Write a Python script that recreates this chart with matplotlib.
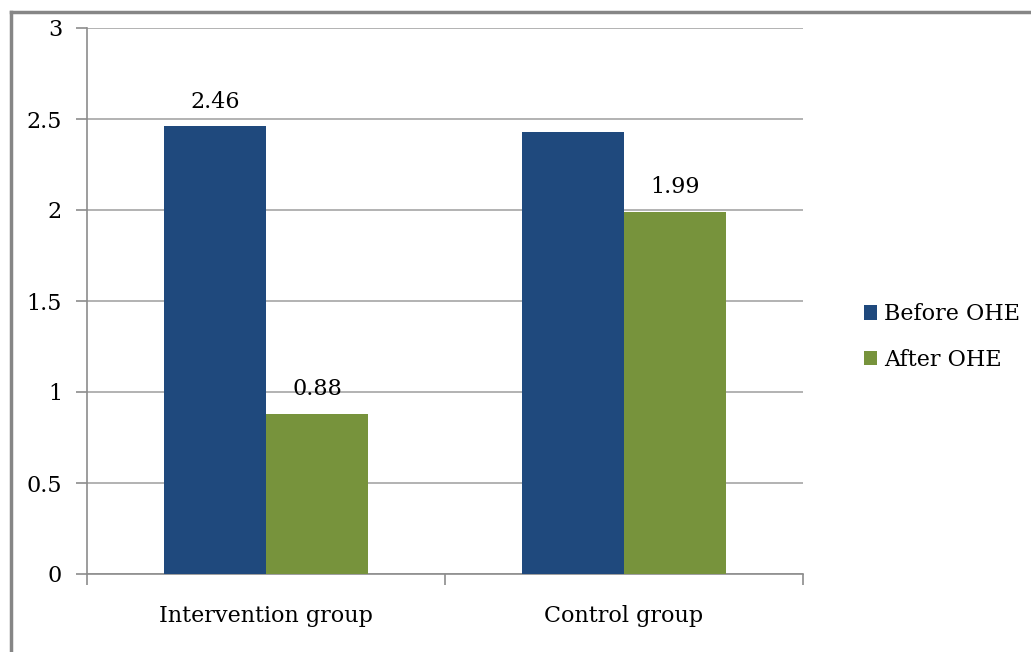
import numpy as np
import matplotlib
matplotlib.use('Agg')
import matplotlib.pyplot as plt
from matplotlib.lines import Line2D

groups = ['Intervention group', 'Control group']
series = ['Before OHE', 'After OHE']
before = [2.46, 2.43]
after = [0.88, 1.99]
labels_before = ['2.46', '']
labels_after = ['0.88', '1.99']
colors = ['#1f497d', '#77933c']

plt.rcParams['font.family'] = ['DejaVu Serif']
fs = 16

fig = plt.figure(figsize=(10.31, 6.52), dpi=100)
ax = fig.add_axes([87/1031, 78/652, 716/1031, 546/652])

w = 1/3.5
x = np.arange(len(groups))
b1 = ax.bar(x - w/2, before, w, color=colors[0], label=series[0], zorder=3)
b2 = ax.bar(x + w/2, after, w, color=colors[1], label=series[1], zorder=3)
# value labels (no label on the control "before" bar in the original)
for bars, labs in ((b1, labels_before), (b2, labels_after)):
    for rect, lab in zip(bars, labs):
        if lab:
            ax.text(rect.get_x() + rect.get_width()/2, rect.get_height() + 0.075, lab,
                    ha='center', va='bottom', fontsize=fs)

ax.set_xlim(-0.5, 1.5)
ax.set_ylim(0, 3)
ax.set_yticks(np.arange(0, 3.01, 0.5))
ax.set_yticklabels(['0', '0.5', '1', '1.5', '2', '2.5', '3'], fontsize=fs)
ax.yaxis.grid(True, color='#a6a6a6', linewidth=1.2, zorder=0)
# category boundary ticks + centred labels
ax.set_xticks([-0.5, 0.5, 1.5])
ax.set_xticklabels([])
ax.set_xticks(x, minor=True)
ax.set_xticklabels(groups, minor=True, fontsize=fs)
ax.tick_params(axis='x', which='minor', length=0, pad=22)
ax.tick_params(axis='x', which='major', length=8, color='#8c8c8c', width=1.2)
ax.tick_params(axis='y', length=8, color='#8c8c8c', width=1.2, pad=10)
for s in ['top', 'right']:
    ax.spines[s].set_visible(False)
for s in ['left', 'bottom']:
    ax.spines[s].set_color('#8c8c8c')
    ax.spines[s].set_linewidth(1.2)

leg = fig.legend(handles=[b1, b2], loc='center left', bbox_to_anchor=(864/1031, 1 - 337/652),
                 frameon=False, fontsize=fs, handlelength=0.6, handleheight=0.6,
                 handletextpad=0.3, labelspacing=1.05, borderaxespad=0, borderpad=0)

# outer frame (top and left edges only)
fig.add_artist(Line2D([11/1031, 1], [1 - 11.5/652, 1 - 11.5/652], color='#868686', linewidth=2.5))
fig.add_artist(Line2D([11/1031, 11/1031], [0, 1 - 11.5/652], color='#868686', linewidth=2.5))

fig.savefig('out.png', dpi=100)
